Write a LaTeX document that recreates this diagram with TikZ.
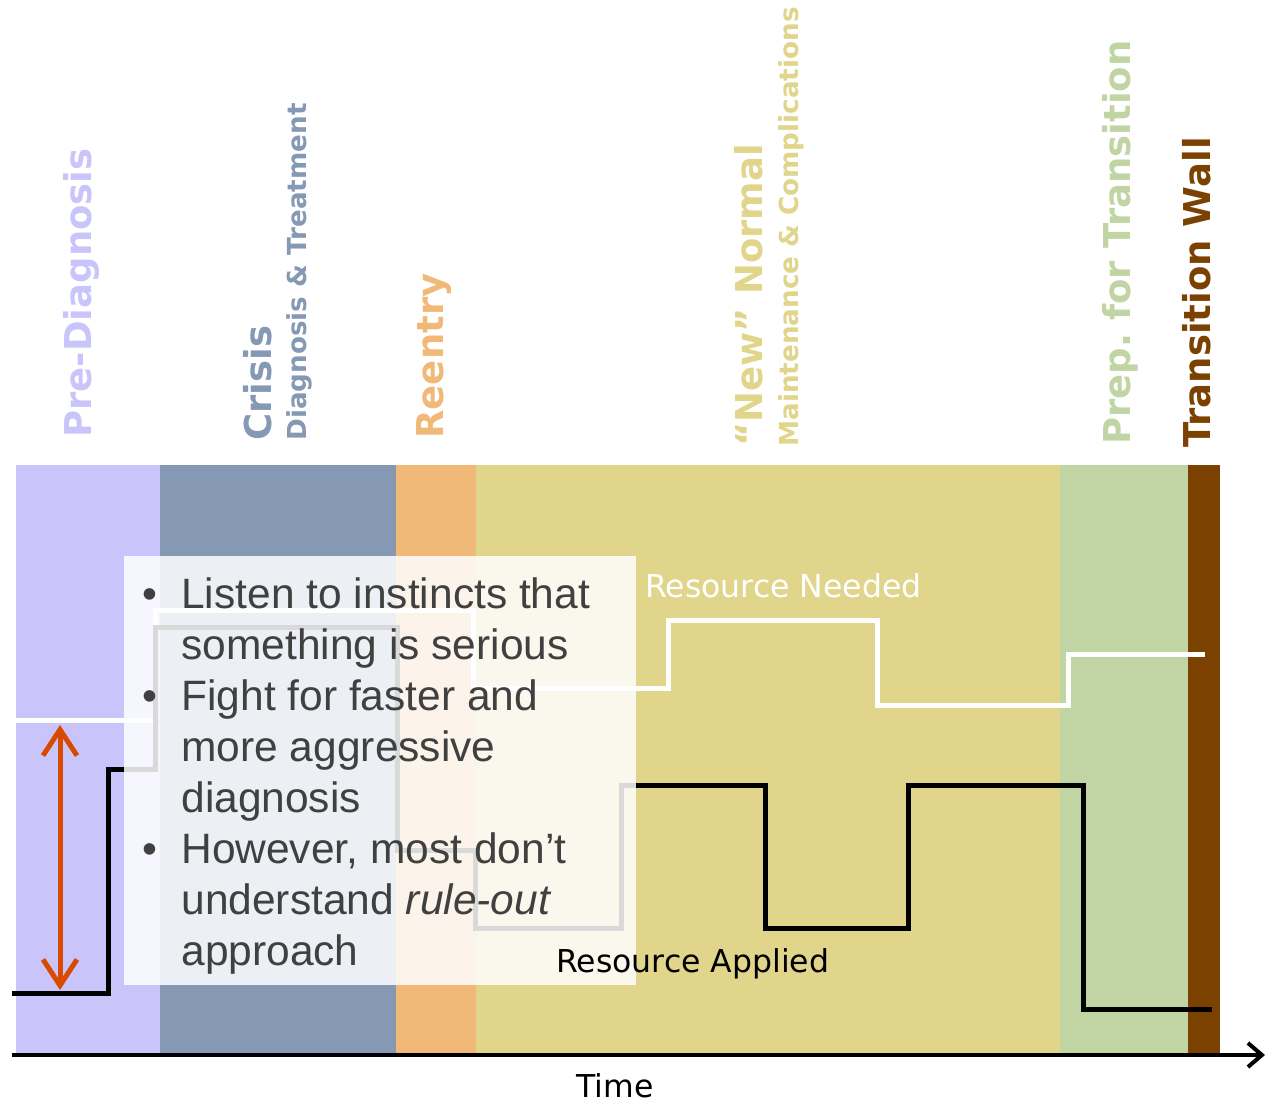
\documentclass[tikz,border=0pt]{standalone}
\usepackage{fontspec}
\setmainfont{DejaVu Sans}
\newfontfamily\tipfont{Liberation Sans}
\usetikzlibrary{arrows.meta}
\definecolor{prediag}{HTML}{C9C5FA}
\definecolor{crisis}{HTML}{8599B5}
\definecolor{reentry}{HTML}{F0B978}
\definecolor{normal}{HTML}{E0D58A}
\definecolor{prep}{HTML}{C0D4A4}
\definecolor{wall}{HTML}{7A4100}
\definecolor{gap}{HTML}{D84A00}
\definecolor{tipgray}{HTML}{404040}
\newcommand\tipbullet{\llap{\textbullet\hspace{12pt}}}
\frenchspacing
\begin{document}
\begin{tikzpicture}[x=0.5pt,y=-0.5pt,
    phase/.style={rotate=90,anchor=base west,inner sep=0pt,font=\bfseries\fontsize{18.5}{18.5}\selectfont},
    subphase/.style={phase,font=\bfseries\fontsize{13.1}{13.1}\selectfont},
    curve/.style={line width=2.5pt},
    label/.style={anchor=base west,inner sep=0pt,font=\fontsize{15.75}{15.75}\selectfont}]
    \useasboundingbox (0,0) rectangle (1268,1102);
    \def\top{465} \def\bot{1055}
    \fill[prediag] (16,\top) rectangle (160,\bot);
    \fill[crisis] (160,\top) rectangle (396,\bot);
    \fill[reentry] (396,\top) rectangle (476,\bot);
    \fill[normal] (476,\top) rectangle (1060,\bot);
    \fill[prep] (1060,\top) rectangle (1188,\bot);
    \fill[wall] (1188,\top) rectangle (1220,\bot);
    \node[phase,text=prediag] (pre) at (91,438) {Pre-Diagnosis};
    \node[phase,text=crisis] (crisis) at (271,441) {Crisis};
    \node[subphase,text=crisis] (crisissub) at (306,441) {Diagnosis \& Treatment};
    \node[phase,text=reentry] (reentry) at (443,439) {Reentry};
    \node[phase,text=normal] (newnormal) at (762,447) {“New” Normal};
    \node[subphase,text=normal] (normalsub) at (798,447) {Maintenance \& Complications};
    \node[phase,text=prep] (prepare) at (1130,445) {Prep. for Transition};
    \node[phase,text=wall] (transwall) at (1210,448) {Transition Wall};
    \draw[line width=2pt,-{Straight Barb[length=7pt,width=12pt]}] (12,\bot) -- (1265,\bot);
    \draw[curve,white] (16,720) -| (155,610) -| (473,688) -| (668,620) -| (877,705) -| (1068,654) -- (1205,654);
    \draw[curve,black] (12,993) -| (108,769) -| (155,627) -| (397,850) -| (475,928) -| (621,785) -| (765,928) -| (908,785) -| (1083,1009) -- (1212,1009);
    \fill[white,opacity=0.85] (124,556) rectangle (636,985);
    \node[anchor=north west,inner sep=0pt,align=left,text=tipgray,font=\tipfont\fontsize{21.25}{25.5}\selectfont] (tips) at (181,577)
        {\tipbullet Listen to instincts that\\something is serious\\\tipbullet Fight for faster and\\more aggressive\\diagnosis\\\tipbullet However, most don’t\\understand \textit{rule-out}\\approach};
    \draw[gap,line width=2.5pt,{Straight Barb[length=13pt,width=17pt]}-{Straight Barb[length=13pt,width=17pt]}] (60,725) -- (60,990);
    \node[label,text=white] (needed) at (645,597) {Resource Needed};
    \node[label] (applied) at (556,972) {Resource Applied};
    \node[label,anchor=base] (time) at (615,1097) {Time};
\end{tikzpicture}
\end{document}
